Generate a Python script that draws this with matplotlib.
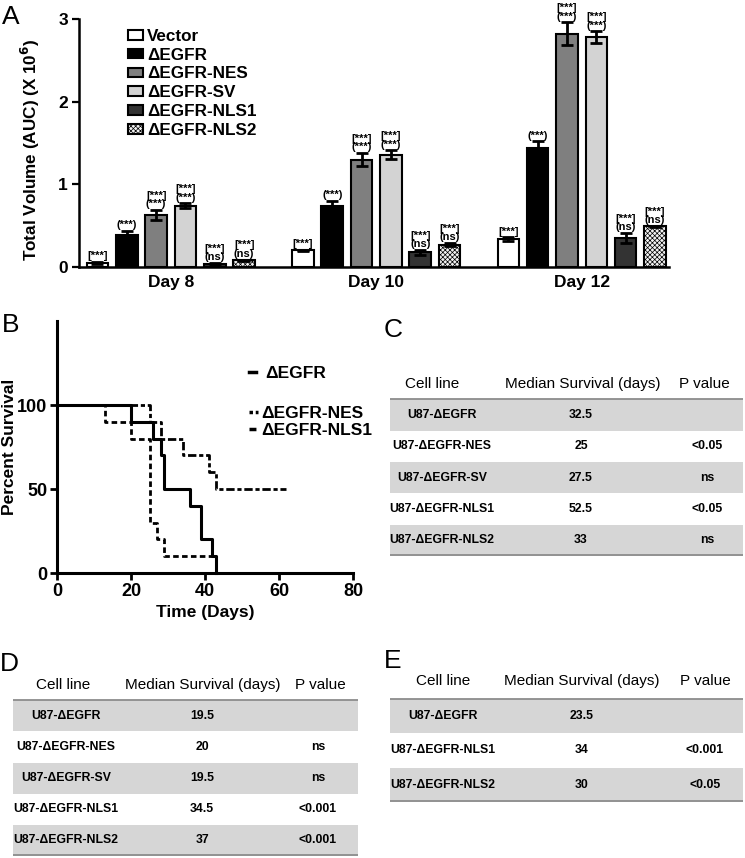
import numpy as np
import matplotlib.pyplot as plt
from matplotlib.lines import Line2D

W, H = 745, 858
plt.rcParams['font.family'] = ['Liberation Sans', 'DejaVu Sans']
plt.rcParams['hatch.linewidth'] = 0.5

# ---- A: tumour volume
days = ['Day 8', 'Day 10', 'Day 12']
groups = ['Vector', 'ΔEGFR', 'ΔEGFR-NES', 'ΔEGFR-SV', 'ΔEGFR-NLS1', 'ΔEGFR-NLS2']
vol_day8 = [0.05, 0.39, 0.63, 0.74, 0.04, 0.08]
vol_day10 = [0.20, 0.74, 1.30, 1.36, 0.18, 0.27]
vol_day12 = [0.34, 1.44, 2.82, 2.78, 0.35, 0.49]
err_day8 = [0.01, 0.05, 0.06, 0.03, 0.01, 0.01]
err_day10 = [0.01, 0.06, 0.08, 0.05, 0.03, 0.02]
err_day12 = [0.02, 0.08, 0.14, 0.07, 0.06, 0.01]
sig_labels = ['[***]', '(***)', '[***]\n(***)', '[***]\n(***)', '[***]\n(ns)', '[***]\n(ns)']

# ---- B: survival curves
egfr_t = [0, 20, 26, 28, 29, 36, 39, 42, 43]
egfr_s = [100, 90, 80, 70, 50, 40, 20, 10, 0]
nes_t = [0, 13, 20, 25, 27, 29, 42]
nes_s = [100, 90, 80, 30, 20, 10, 10]
nls1_t = [0, 25, 28, 34, 41, 43, 62]
nls1_s = [100, 90, 80, 70, 60, 50, 50]

# ---- C, D, E: tables
headers = ['Cell line', 'Median Survival (days)', 'P value']
c_cells = ['U87-ΔEGFR', 'U87-ΔEGFR-NES', 'U87-ΔEGFR-SV', 'U87-ΔEGFR-NLS1', 'U87-ΔEGFR-NLS2']
c_median = [32.5, 25, 27.5, 52.5, 33]
c_p = ['', '<0.05', 'ns', '<0.05', 'ns']
d_cells = ['U87-ΔEGFR', 'U87-ΔEGFR-NES', 'U87-ΔEGFR-SV', 'U87-ΔEGFR-NLS1', 'U87-ΔEGFR-NLS2']
d_median = [19.5, 20, 19.5, 34.5, 37]
d_p = ['', 'ns', 'ns', '<0.001', '<0.001']
e_cells = ['U87-ΔEGFR', 'U87-ΔEGFR-NLS1', 'U87-ΔEGFR-NLS2']
e_median = [23.5, 34, 30]
e_p = ['', '<0.001', '<0.05']


def px(l, t, r, b):
    return [l / W, 1 - b / H, (r - l) / W, (b - t) / H]


fig = plt.figure(figsize=(W / 100, H / 100), dpi=100)

# ================= A
ax = fig.add_axes(px(79, 19, 669, 267))
vols = np.array([vol_day8, vol_day10, vol_day12])
errs = np.array([err_day8, err_day10, err_day12])
colors = ['white', 'black', '#7f7f7f', '#d3d3d3', '#333333', '#f2f2f2']
hatches = [None, None, None, None, None, 'xxxxxxx']
for g, name in enumerate(groups):
    x = np.arange(len(days)) * 7 + g
    ax.bar(x, vols[:, g], yerr=errs[:, g], width=0.73, color=colors[g],
           edgecolor='black', linewidth=1.5, hatch=hatches[g], label=name,
           error_kw=dict(ecolor='black', elinewidth=2, capsize=4.5, capthick=2))
    for xi, v, e in zip(x, vols[:, g], errs[:, g]):
        ax.annotate(sig_labels[g], (xi, v + e), xytext=(0, 0.5),
                    textcoords='offset points', ha='center', va='bottom',
                    fontsize=8, fontweight='bold', linespacing=0.8,
                    annotation_clip=False)
ax.set_xlim(-0.63, 19.48)
ax.set_ylim(0, 3)
ax.set_yticks([0, 1, 2, 3])
ax.set_xticks(np.arange(len(days)) * 7 + 2.5)
ax.set_xticklabels(days)
ax.tick_params(axis='x', length=0, pad=6)
ax.tick_params(axis='y', length=5, width=1.6, pad=3)
for lab in ax.get_xticklabels() + ax.get_yticklabels():
    lab.set_weight('bold')
    lab.set_size(12.5)
for s in ['top', 'right']:
    ax.spines[s].set_visible(False)
for s in ['left', 'bottom']:
    ax.spines[s].set_linewidth(1.8)
ax.set_ylabel('Total Volume (AUC) (X 10$^{\\mathbf{6}}$)', fontsize=12.3, fontweight='bold')
ax.yaxis.set_label_coords(-0.063, 0.474)
ax.legend(loc='upper left', bbox_to_anchor=(0.083, 0.96), frameon=False,
          prop=dict(weight='bold', size=12.3),
          handlelength=0.9, handleheight=0.5, handletextpad=0.2,
          labelspacing=0.22, borderpad=0, borderaxespad=0)

# ================= B
bx = fig.add_axes(px(57, 321, 353, 573))
bx.step(nes_t, nes_s, where='post', color='black', lw=2, ls=(0, (2, 1.2)))
bx.step(nls1_t, nls1_s, where='post', color='black', lw=2, ls=(0, (3, 1, 1.5, 1)))
bx.step(egfr_t, egfr_s, where='post', color='black', lw=2.2, clip_on=False)
bx.set_xlim(0, 80)
bx.set_ylim(0, 150)
bx.set_xticks([0, 20, 40, 60, 80])
bx.set_yticks([0, 50, 100])
bx.tick_params(length=5, width=2, pad=2)
for lab in bx.get_xticklabels() + bx.get_yticklabels():
    lab.set_weight('bold')
    lab.set_size(13)
for s in ['top', 'right']:
    bx.spines[s].set_visible(False)
for s in ['left', 'bottom']:
    bx.spines[s].set_linewidth(2.2)
bx.set_xlabel('Time (Days)', fontsize=12.5, fontweight='bold', labelpad=4)
bx.set_ylabel('Percent Survival', fontsize=12.5, fontweight='bold')
bx.yaxis.set_label_coords(-0.135, 0.5)
h_egfr = Line2D([], [], color='black', lw=2.5)
h_nes = Line2D([], [], color='black', lw=2.5, ls=(0, (1, 0.8)))
h_nls1 = Line2D([], [], color='black', lw=2.5, ls=(0, (2, 0.8, 1, 0.8)))
lprop = dict(weight='bold', size=12.5)
leg1 = bx.legend([h_egfr], ['ΔEGFR'], loc='center left', bbox_to_anchor=(0.65, 0.79),
                 frameon=False, prop=lprop, handlelength=0.4, handletextpad=0.5,
                 borderpad=0, borderaxespad=0)
bx.add_artist(leg1)
bx.legend([h_nes, h_nls1], ['ΔEGFR-NES', 'ΔEGFR-NLS1'], loc='center left',
          bbox_to_anchor=(0.65, 0.6), frameon=False, prop=lprop,
          handlelength=0.5, handletextpad=0.2, labelspacing=0.1,
          borderpad=0, borderaxespad=0)


# ================= tables
def draw_table(rect, cells, medians, pvals, col_x, head_x, head_h=1.0):
    tx = fig.add_axes(px(*rect))
    n = len(cells)
    tx.set_xlim(0, 1)
    tx.set_ylim(n + head_h, 0)
    tx.axis('off')
    for i in range(0, n, 2):
        tx.axhspan(head_h + i, head_h + i + 1, color='#d6d6d6', lw=0)
    tx.axhline(head_h, color='#8c8c8c', lw=1.3)
    tx.axhline(n + head_h - 0.02, color='#8c8c8c', lw=1.3)
    for label, x in zip(headers, head_x):
        tx.text(x, head_h / 2, label, ha='center', va='center', size=11)
    for i, row in enumerate(zip(cells, medians, pvals)):
        vals = [row[0], '{:g}'.format(row[1]), row[2]]
        for val, x in zip(vals, col_x):
            tx.text(x, head_h + i + 0.5, val, ha='center', va='center',
                    weight='bold', size=8.8)


draw_table((390, 368, 743, 556), c_cells, c_median, c_p,
           [0.147, 0.541, 0.898], [0.119, 0.547, 0.89])
draw_table((13, 669, 358, 856), d_cells, d_median, d_p,
           [0.153, 0.548, 0.884], [0.145, 0.551, 0.89])
draw_table((390, 664, 743, 802), e_cells, e_median, e_p,
           [0.15, 0.544, 0.892], [0.15, 0.544, 0.892])

# panel letters
for letter, x, y in [('A', 2, 5), ('B', 2, 313), ('C', 384, 318), ('D', 0, 652), ('E', 384, 649)]:
    fig.text(x / W, 1 - y / H, letter, fontsize=19, ha='left', va='top')

fig.savefig('out.png', dpi=100)
